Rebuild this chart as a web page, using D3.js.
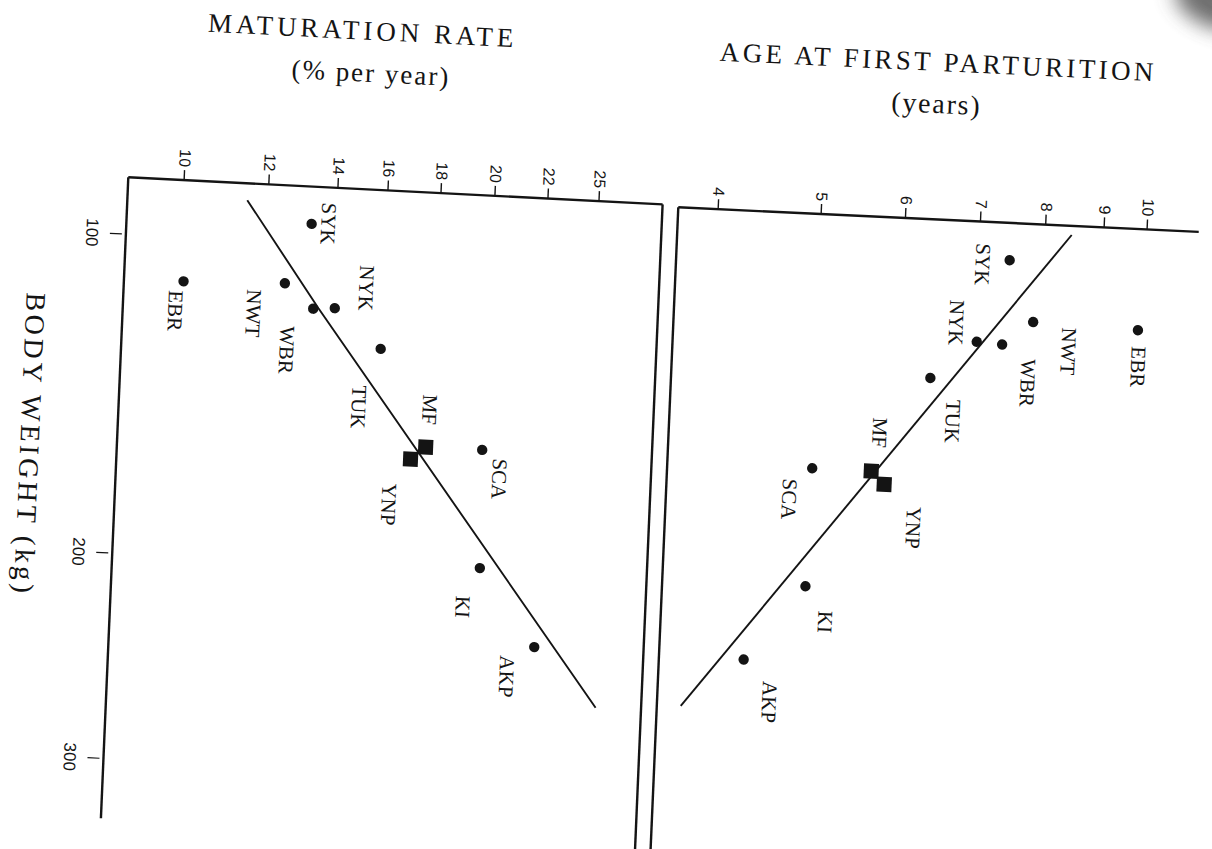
<!DOCTYPE html>
<html>
<head>
<meta charset="utf-8">
<script src="https://cdn.jsdelivr.net/npm/d3@7"></script>
<style>
  body { margin: 0; background: #fff; }
</style>
</head>
<body>
<div id="chart"></div>
<script>
// Populations (same order in every array)
const populations = ["SYK", "EBR", "NWT", "WBR", "NYK", "TUK", "MF", "YNP", "SCA", "KI", "AKP"];
const bodyWeight = [94, 114, 113, 120.5, 120, 132, 162, 166, 162, 199, 235.5];                 // kg
const maturationRate = [13.3, 10.1, 12.6, 13.45, 14.1, 16.0, 17.85, 17.3, 19.95, 20.05, 22.35];  // % per year
const ageFirstParturition = [7.48, 9.9, 7.88, 7.42, 7.03, 6.43, 5.73, 5.89, 5.03, 5.01, 4.44];   // years
const squarePopulations = ["MF", "YNP"];

// Tick labels
const rateTicks = [10, 12, 14, 16, 18, 20, 22, 25];
const ageTicks = [4, 5, 6, 7, 8, 9, 10];
const weightTicks = [100, 200, 300];

// Fitted lines, as [body weight, value] vertices
const rateLine = [[87.6, 11.52], [120.3, 13.6], [263.5, 26.1]];
const ageLine = [[85.2, 8.46], [259.5, 3.85]];

// ---- layout ----
const width = 1212;
const height = 849;

// The printed page is scanned slightly skewed, so each panel has its own frame
const leftFrame = { origin: [128.3, 177.3], u: [0.9987, 0.0506], v: [-0.0427, 0.9991] };
const rightFrame = { origin: [678.3, 207.3], u: [0.9989, 0.0471], v: [-0.0431, 0.9991] };

// Hand-drawn axes are not evenly spaced: calibrate each scale on its ticks
const yWeight = d3.scaleLinear().domain(weightTicks).range([56.4, 375.7, 581.2]);
const xRate = d3.scaleLinear().domain(rateTicks).range([55.4, 140.2, 209.4, 259.5, 312.6, 366.6, 419.7, 470.8]);
const xAge = d3.scaleLinear().domain(ageTicks).range([39.4, 142.5, 226.9, 302.0, 367.3, 425.8, 468.8]);

// Where each population label sits relative to its marker
const leftLabelOffset = {
  SYK: [16.6, -1.1], NYK: [30.6, -21.6], NWT: [-30.3, 31.6], EBR: [-7.1, 29.7],
  WBR: [-24.9, 42.6], TUK: [-19.7, 59.1], MF: [2.3, -37.5], YNP: [-20, 46.4],
  SCA: [18.2, 28.1], KI: [-15.6, 39.6], AKP: [-26.6, 30.7]
};
const rightLabelOffset = {
  SYK: [-27, 5.3], NYK: [-21.3, -18.3], NWT: [36.4, 27.6], EBR: [1.6, 36.6],
  WBR: [27, 37.2], TUK: [24.1, 42.3], MF: [6.8, -38.7], YNP: [30.7, 41.9],
  SCA: [-21.8, 31.8], KI: [21, 34.8], AKP: [27.2, 41.2]
};

const serif = "'Liberation Serif', 'DejaVu Serif', serif";
const sans = "'Liberation Sans', Arial, sans-serif";
const ink = "#141414";

const svg = d3.select("#chart")
  .append("svg")
  .attr("width", width)
  .attr("height", height);

svg.append("rect").attr("width", width).attr("height", height).attr("fill", "#fff");

// shadow of the page corner in the scan
svg.append("defs").append("filter").attr("id", "blur")
  .attr("x", "-50%").attr("y", "-50%").attr("width", "200%").attr("height", "200%")
  .append("feGaussianBlur").attr("stdDeviation", 10);
svg.append("ellipse")
  .attr("cx", 1212).attr("cy", 4).attr("rx", 40).attr("ry", 22)
  .attr("transform", "rotate(25,1212,4)")
  .attr("fill", "#555")
  .attr("opacity", 0.85)
  .attr("filter", "url(#blur)");

function frameTransform(f) {
  return `matrix(${f.u[0]},${f.u[1]},${f.v[0]},${f.v[1]},${f.origin[0]},${f.origin[1]})`;
}

const data = populations.map((name, i) => ({
  name,
  weight: bodyWeight[i],
  rate: maturationRate[i],
  age: ageFirstParturition[i],
  square: squarePopulations.includes(name)
}));

function drawPanel(frame, opts) {
  const g = svg.append("g").attr("transform", frameTransform(frame));

  // frame lines
  g.append("g")
    .attr("stroke", ink)
    .attr("stroke-width", 2.4)
    .selectAll("line")
    .data(opts.frameLines)
    .join("line")
      .attr("x1", d => d[0]).attr("y1", d => d[1])
      .attr("x2", d => d[2]).attr("y2", d => d[3]);

  // value axis along the top
  const top = g.append("g")
    .call(d3.axisTop(opts.x).tickValues(opts.ticks).tickFormat(d3.format("d"))
      .tickSize(10).tickSizeOuter(0));
  top.select(".domain").remove();
  top.selectAll(".tick line").attr("stroke", ink).attr("stroke-width", 1.4);
  top.selectAll(".tick text")
    .attr("y", null).attr("dy", null)
    .attr("transform", "translate(0,-13) rotate(90)")
    .attr("text-anchor", "end")
    .attr("dominant-baseline", "central")
    .attr("fill", ink)
    .attr("font-family", sans)
    .attr("font-size", 16);

  // body weight ticks on the left
  if (opts.weightAxis) {
    const left = g.append("g")
      .call(d3.axisLeft(yWeight).tickValues(weightTicks).tickFormat(d3.format("d"))
        .tickSize(16).tickSizeOuter(0));
    left.select(".domain").remove();
    left.selectAll(".tick line").attr("x1", -4).attr("stroke", ink).attr("stroke-width", 1.2);
    left.selectAll(".tick text")
      .attr("x", null).attr("dy", null)
      .attr("transform", "translate(-34,0) rotate(90)")
      .attr("text-anchor", "middle")
      .attr("dominant-baseline", "central")
      .attr("fill", ink)
      .attr("font-family", sans)
      .attr("font-size", 17);
  }

  // fitted line
  g.append("path")
    .datum(opts.line)
    .attr("fill", "none")
    .attr("stroke", ink)
    .attr("stroke-width", 1.9)
    .attr("d", d3.line().x(d => opts.x(d[1])).y(d => yWeight(d[0])));

  // markers
  const value = opts.value;
  g.append("g")
    .attr("fill", ink)
    .selectAll("circle")
    .data(data.filter(d => !d.square))
    .join("circle")
      .attr("cx", d => opts.x(value(d)))
      .attr("cy", d => yWeight(d.weight))
      .attr("r", 5.2);

  g.append("g")
    .attr("fill", ink)
    .selectAll("rect")
    .data(data.filter(d => d.square))
    .join("rect")
      .attr("x", d => opts.x(value(d)) - 7.5)
      .attr("y", d => yWeight(d.weight) - 7.5)
      .attr("width", 15)
      .attr("height", 15);

  // population labels, printed sideways
  g.append("g")
    .attr("fill", ink)
    .attr("font-family", serif)
    .attr("font-size", 21)
    .selectAll("text")
    .data(data)
    .join("text")
      .attr("transform", d => {
        const o = opts.labelOffset[d.name];
        return `translate(${opts.x(value(d)) + o[0]},${yWeight(d.weight) + o[1]}) rotate(90)`;
      })
      .attr("text-anchor", "middle")
      .attr("dominant-baseline", "central")
      .text(d => d.name);

  // titles
  g.append("g")
    .attr("fill", ink)
    .attr("font-family", serif)
    .attr("text-anchor", "middle")
    .selectAll("text")
    .data(opts.titles)
    .join("text")
      .attr("x", d => d.x)
      .attr("y", d => d.y)
      .attr("font-size", d => d.size)
      .attr("letter-spacing", d => d.spacing)
      .attr("transform", d => d.rotate ? `rotate(90,${d.x},${d.y})` : null)
      .attr("dominant-baseline", d => d.rotate ? "central" : null)
      .text(d => d.text);

  return g;
}

drawPanel(leftFrame, {
  x: xRate,
  ticks: rateTicks,
  value: d => d.rate,
  line: rateLine,
  weightAxis: true,
  labelOffset: leftLabelOffset,
  frameLines: [[0, 0, 535, 0], [0, 0, 0, 641.5], [535, 0, 535, 690]],
  titles: [
    { text: "MATURATION RATE", x: 228, y: -149.5, size: 27, spacing: 4 },
    { text: "(% per year)", x: 238, y: -107.5, size: 27, spacing: 2 },
    { text: "BODY WEIGHT (kg)", x: -87, y: 272, size: 28, spacing: 3.5, rotate: true }
  ]
});

drawPanel(rightFrame, {
  x: xAge,
  ticks: ageTicks,
  value: d => d.age,
  line: ageLine,
  weightAxis: false,
  labelOffset: rightLabelOffset,
  frameLines: [[0, 0, 521, 0], [0, 0, 0, 690]],
  titles: [
    { text: "AGE AT FIRST PARTURITION", x: 253.6, y: -148.4, size: 27, spacing: 3.4 },
    { text: "(years)", x: 253.4, y: -106.3, size: 28, spacing: 1.8 }
  ]
});
</script>
</body>
</html>
